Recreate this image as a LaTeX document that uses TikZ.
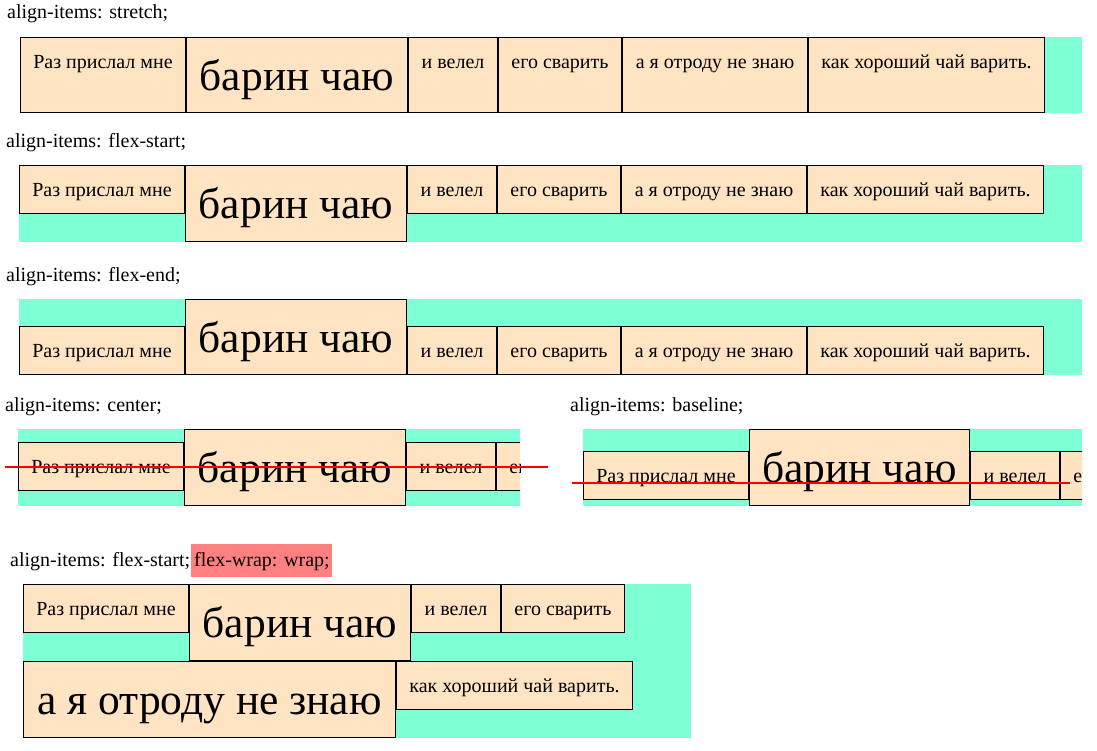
\documentclass[tikz,border=0pt]{standalone}
\usepackage{fontspec}
\setmainfont{Liberation Serif}
\definecolor{bisq}{HTML}{FFE4C4}
\definecolor{aqm}{HTML}{7FFFD4}
\definecolor{hlred}{HTML}{FF8080}
\newcommand{\smf}{\fontsize{20}{23}\selectfont}
\newcommand{\bgf}{\fontsize{43.5}{50}\selectfont}
\tikzset{
  itembox/.style={fill=bisq, draw=black, line width=1.2pt},
  itemtext/.style={anchor=base, inner sep=0pt, text=black},
  lbl/.style={anchor=base west, inner sep=0pt, font=\smf},
  cont/.style={fill=aqm},
  redline/.style={draw=red, line width=2pt},
}
% name, x1, y1, x2, y2, baseline, font, text
\newcommand{\flexitem}[8]{%
  \path[itembox] (#2+0.6,#3+0.6) rectangle (#4-0.6,#5-0.6);
  \node[itemtext, font=#7] (#1) at ({(#2+#4)/2},#6) {#8};}
\begin{document}
\begin{tikzpicture}[x=1pt,y=-1pt]
\useasboundingbox (0,0) rectangle (1097,750);
\fill[white] (0,0) rectangle (1097,750);

% ---------- row 1: stretch
\node[lbl] (l1) at (7,18) {align-items: stretch;};
\fill[cont] (20,37) rectangle (1082,113);
\flexitem{a1}{20}{37}{186}{113}{68}{\smf}{Раз прислал мне}
\flexitem{b1}{186}{37}{408}{113}{90}{\bgf}{барин чаю}
\flexitem{c1}{408}{37}{498}{113}{68}{\smf}{и велел}
\flexitem{d1}{498}{37}{622}{113}{68}{\smf}{его сварить}
\flexitem{e1}{622}{37}{808}{113}{68}{\smf}{а я отроду не знаю}
\flexitem{f1}{808}{37}{1045}{113}{68}{\smf}{как хороший чай варить.}

% ---------- row 2: flex-start
\node[lbl] (l2) at (6,147) {align-items: flex-start;};
\fill[cont] (19,165) rectangle (1082,242);
\flexitem{a2}{19}{165}{185}{214}{196}{\smf}{Раз прислал мне}
\flexitem{b2}{185}{165}{407}{242}{218}{\bgf}{барин чаю}
\flexitem{c2}{407}{165}{497}{214}{196}{\smf}{и велел}
\flexitem{d2}{497}{165}{621}{214}{196}{\smf}{его сварить}
\flexitem{e2}{621}{165}{807}{214}{196}{\smf}{а я отроду не знаю}
\flexitem{f2}{807}{165}{1044}{214}{196}{\smf}{как хороший чай варить.}

% ---------- row 3: flex-end
\node[lbl] (l3) at (6,281) {align-items: flex-end;};
\fill[cont] (19,299) rectangle (1082,375);
\flexitem{a3}{19}{326}{185}{375}{357}{\smf}{Раз прислал мне}
\flexitem{b3}{185}{299}{407}{375}{352}{\bgf}{барин чаю}
\flexitem{c3}{407}{326}{497}{375}{357}{\smf}{и велел}
\flexitem{d3}{497}{326}{621}{375}{357}{\smf}{его сварить}
\flexitem{e3}{621}{326}{807}{375}{357}{\smf}{а я отроду не знаю}
\flexitem{f3}{807}{326}{1044}{375}{357}{\smf}{как хороший чай варить.}

% ---------- row 4: center
\node[lbl] (l4) at (5,411) {align-items: center;};
\begin{scope}
\clip (18,429) rectangle (520,506);
\fill[cont] (18,429) rectangle (520,506);
\flexitem{a4}{18}{442}{184}{491}{473}{\smf}{Раз прислал мне}
\flexitem{b4}{184}{429}{406}{506}{482}{\bgf}{барин чаю}
\flexitem{c4}{406}{442}{496}{491}{473}{\smf}{и велел}
\flexitem{d4}{496}{442}{620}{491}{473}{\smf}{его сварить}
\end{scope}
\coordinate (r4s) at (5,467);
\coordinate (r4e) at (548,467);
\draw[redline] (r4s) -- (r4e);

% ---------- row 5: baseline
\node[lbl] (l5) at (570,411) {align-items: baseline;};
\begin{scope}
\clip (583,429) rectangle (1082,506);
\fill[cont] (583,429) rectangle (1082,506);
\flexitem{a5}{583}{451}{749}{500}{482}{\smf}{Раз прислал мне}
\flexitem{b5}{749}{429}{970}{506}{482}{\bgf}{барин чаю}
\flexitem{c5}{970}{451}{1060}{500}{482}{\smf}{и велел}
\flexitem{d5}{1060}{451}{1184}{500}{482}{\smf}{его сварить}
\end{scope}
\coordinate (r5s) at (572,483);
\coordinate (r5e) at (1070,483);
\draw[redline] (r5s) -- (r5e);

% ---------- row 6: flex-start + wrap
\path[fill=hlred] (191,544) rectangle (332,577);
\node[lbl] (l6) at (10,566) {align-items: flex-start;};
\node[lbl] (l6b) at (194,566) {flex-wrap: wrap;};
\fill[cont] (23,584) rectangle (691,738);
\flexitem{a6}{23}{584}{189}{633}{615}{\smf}{Раз прислал мне}
\flexitem{b6}{189}{584}{411}{661}{637}{\bgf}{барин чаю}
\flexitem{c6}{411}{584}{501}{633}{615}{\smf}{и велел}
\flexitem{d6}{501}{584}{625}{633}{615}{\smf}{его сварить}
\flexitem{e6}{23}{661}{396}{738}{714}{\bgf}{а я отроду не знаю}
\flexitem{f6}{396}{661}{633}{710}{692}{\smf}{как хороший чай варить.}
\end{tikzpicture}
\end{document}
